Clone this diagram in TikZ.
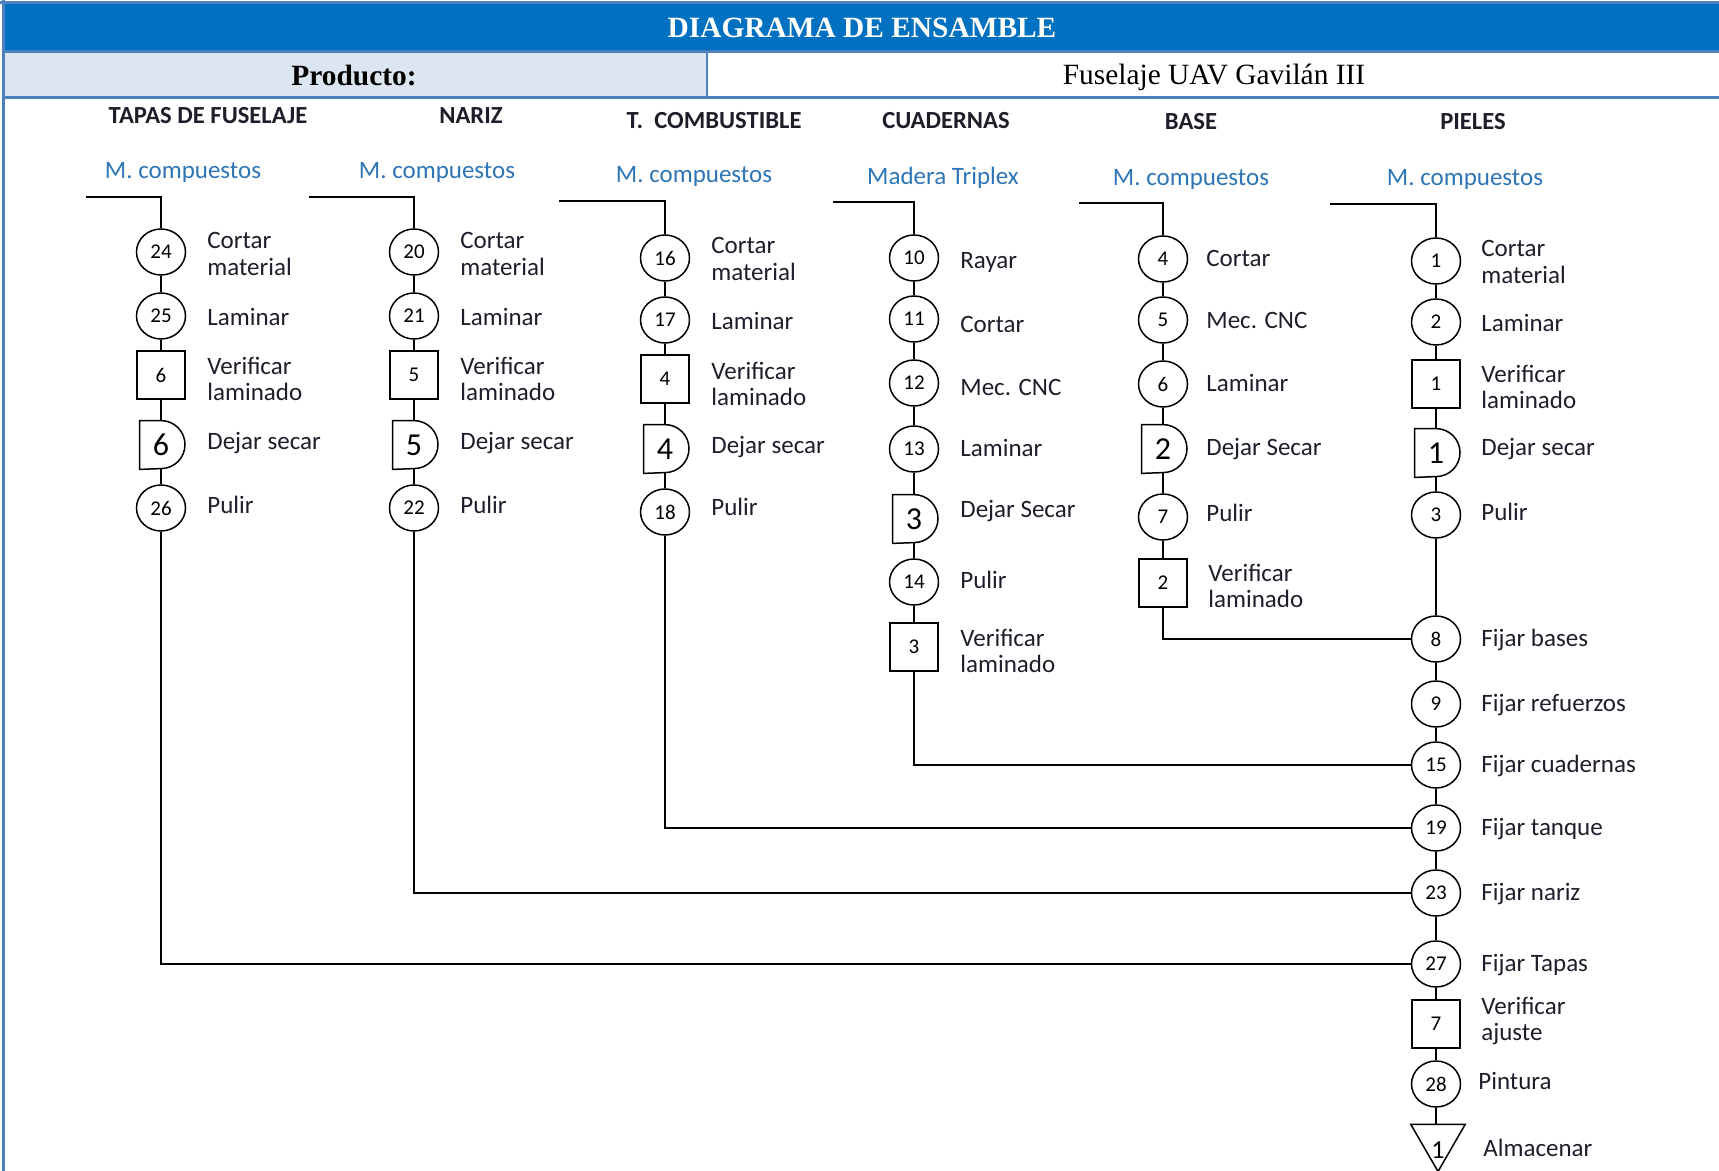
\documentclass[tikz,border=0pt]{standalone}
\usepackage{fontspec}
\setmainfont{Carlito}
\newfontfamily\timesfont{Liberation Serif}
\usetikzlibrary{shapes.geometric}
\definecolor{titleblue}{HTML}{0070C0}
\definecolor{rulblue}{HTML}{4F81BD}
\definecolor{cellblue}{HTML}{DCE6F1}
\definecolor{matblue}{HTML}{2E75B6}
\definecolor{ink}{HTML}{1E1E2A}

% delay symbol: flat left half, round right half
\newcommand\waitnode[4]{%
  \node[delaybox] (#1) at (#2,#3) {#4};
  \draw[conn] (#1.north west) -- (#1.north)
     arc[start angle=90,end angle=-90,radius=12pt] -- (#1.south west) -- cycle;}

\begin{document}
\begin{tikzpicture}[x=0.5pt,y=-0.5pt,
  conn/.style={draw=black, line width=0.75pt},
  op/.style={ellipse, draw, line width=0.75pt, minimum width=24.5pt, minimum height=23pt,
    inner sep=0pt, font=\fontsize{10.5}{11}\selectfont},
  insp/.style={rectangle, draw, line width=0.75pt, minimum width=24pt, minimum height=24pt,
    inner sep=0pt, font=\fontsize{10.5}{11}\selectfont},
  delaybox/.style={rectangle, minimum width=21pt, minimum height=24pt, inner sep=0pt,
    font=\fontsize{16}{16}\selectfont},
  store/.style={regular polygon, regular polygon sides=3, shape border rotate=180, draw,
    line width=0.75pt, minimum size=31.5pt, inner sep=0pt, text height=9pt, text depth=0pt,
    font=\fontsize{13}{13}\selectfont},
  lbl/.style={anchor=west, align=left, inner sep=0pt, text=ink,
    font=\fontsize{12.5}{13.2}\selectfont},
  head/.style={inner sep=0pt, text=ink, font=\fontsize{12.3}{13}\selectfont\bfseries},
  mat/.style={inner sep=0pt, text=matblue, font=\fontsize{12.5}{13}\selectfont},
  bigserif/.style={inner sep=0pt, font=\timesfont\fontsize{14.7}{15}\selectfont},
]
\useasboundingbox (0,0) rectangle (1719,1171);

% title block
\fill[titleblue] (3,3) rectangle (1719,52);
\fill[cellblue] (3,52) rectangle (707,98);
\draw[rulblue, line width=1.5pt] (0,3) -- (1719,3);
\draw[rulblue, line width=1.5pt] (3,0) -- (3,1171);
\draw[rulblue, line width=1.5pt] (3,52) -- (1719,52);
\draw[rulblue, line width=1.5pt] (3,98) -- (1719,98);
\draw[rulblue, line width=1pt] (707,52) -- (707,98);
\node[bigserif, text=white, font=\timesfont\fontsize{14.7}{15}\selectfont\bfseries] (title) at (862,28) {DIAGRAMA DE ENSAMBLE};
\node[bigserif, font=\timesfont\fontsize{14.7}{15}\selectfont\bfseries] (prodk) at (354,76) {Producto:};
\node[bigserif] (prodv) at (1214,77) {Fuselaje UAV Gavilán III};

% column headers
\node[head] (h1) at (208,116) {TAPAS DE FUSELAJE};
\node[head] (h2) at (471,116) {NARIZ};
\node[head] (h3) at (714,121) {T.\ \ COMBUSTIBLE};
\node[head] (h4) at (946,121) {CUADERNAS};
\node[head] (h5) at (1191,122) {BASE};
\node[head] (h6) at (1473,122) {PIELES};

\node[mat] (m1) at (183,172) {M. compuestos};
\node[mat] (m2) at (437,172) {M. compuestos};
\node[mat] (m3) at (694,176) {M. compuestos};
\node[mat] (m4) at (943,178) {Madera Triplex};
\node[mat] (m5) at (1191,179) {M. compuestos};
\node[mat] (m6) at (1465,179) {M. compuestos};

% entry points of each line
\coordinate (t1) at (86,197);
\coordinate (t2) at (309,197);
\coordinate (t3) at (559,201);
\coordinate (t4) at (833,202);
\coordinate (t5) at (1079,203);
\coordinate (t6) at (1330,204);

% tapas de fuselaje
\node[op] (a1) at (161,252) {24};
\node[op] (a2) at (161,316) {25};
\node[insp] (a3) at (161,375) {6};
\waitnode{a4}{161}{445}{6}
\node[op] (a5) at (161,508) {26};

% nariz
\node[op] (b1) at (414,252) {20};
\node[op] (b2) at (414,316) {21};
\node[insp] (b3) at (414,375) {5};
\waitnode{b4}{414}{445}{5}
\node[op] (b5) at (414,508) {22};

% tanque de combustible
\node[op] (c1) at (665,258) {16};
\node[op] (c2) at (665,320) {17};
\node[insp] (c3) at (665,379) {4};
\waitnode{c4}{665}{449}{4}
\node[op] (c5) at (665,512) {18};

% cuadernas
\node[op] (d1) at (914,258) {10};
\node[op] (d2) at (914,319) {11};
\node[op] (d3) at (914,383) {12};
\node[op] (d4) at (914,449) {13};
\waitnode{d5}{914}{519}{3}
\node[op] (d6) at (914,582) {14};
\node[insp] (d7) at (914,647) {3};

% base
\node[op] (e1) at (1163,259) {4};
\node[op] (e2) at (1163,320) {5};
\node[op] (e3) at (1163,384) {6};
\waitnode{e4}{1163}{449}{2}
\node[op] (e5) at (1163,517) {7};
\node[insp] (e6) at (1163,583) {2};

% pieles and final assembly
\node[op] (f1) at (1436,261) {1};
\node[op] (f2) at (1436,322) {2};
\node[insp] (f3) at (1436,384) {1};
\waitnode{f4}{1436}{453}{1}
\node[op] (f5) at (1436,515) {3};
\node[op] (f6) at (1436,639) {8};
\node[op] (f7) at (1436,704) {9};
\node[op] (f8) at (1436,765) {15};
\node[op] (f9) at (1436,828) {19};
\node[op] (f10) at (1436,893) {23};
\node[op] (f11) at (1436,964) {27};
\node[insp] (f12) at (1436,1024) {7};
\node[op] (f13) at (1436,1084) {28};
\node[store] (f14) at (1438,1140) {\raisebox{-4.5pt}{1}};

% connectors
\draw[conn] (t1) -| (a1);
\draw[conn] (t2) -| (b1);
\draw[conn] (t3) -| (c1);
\draw[conn] (t4) -| (d1);
\draw[conn] (t5) -| (e1);
\draw[conn] (t6) -| (f1);
\foreach \p/\q in {a1/a2,a2/a3,a3/a4,a4/a5,
                   b1/b2,b2/b3,b3/b4,b4/b5,
                   c1/c2,c2/c3,c3/c4,c4/c5,
                   d1/d2,d2/d3,d3/d4,d4/d5,d5/d6,d6/d7,
                   e1/e2,e2/e3,e3/e4,e4/e5,e5/e6,
                   f1/f2,f2/f3,f3/f4,f4/f5,f5/f6,f6/f7,f7/f8,f8/f9,f9/f10,
                   f10/f11,f11/f12,f12/f13}
  \draw[conn] (\p) -- (\q);
\draw[conn] (f13) -- (f13 |- f14.north);
\draw[conn] (e6) |- (f6);
\draw[conn] (d7) |- (f8);
\draw[conn] (c5) |- (f9);
\draw[conn] (b5) |- (f10);
\draw[conn] (a5) |- (f11);

% activity labels
\node[lbl] (la1) at (207,254) {Cortar\\material};
\node[lbl] (la2) at (207,317) {Laminar};
\node[lbl] (la3) at (207,379) {Verificar\\laminado};
\node[lbl] (la4) at (207,443) {Dejar secar};
\node[lbl] (la5) at (207,505) {Pulir};

\node[lbl] (lb1) at (460,254) {Cortar\\material};
\node[lbl] (lb2) at (460,317) {Laminar};
\node[lbl] (lb3) at (460,379) {Verificar\\laminado};
\node[lbl] (lb4) at (460,443) {Dejar secar};
\node[lbl] (lb5) at (460,505) {Pulir};

\node[lbl] (lc1) at (711,259) {Cortar\\material};
\node[lbl] (lc2) at (711,321) {Laminar};
\node[lbl] (lc3) at (711,384) {Verificar\\laminado};
\node[lbl] (lc4) at (711,447) {Dejar secar};
\node[lbl] (lc5) at (711,507) {Pulir};

\node[lbl] (ld1) at (960,262) {Rayar};
\node[lbl] (ld2) at (960,324) {Cortar};
\node[lbl] (ld3) at (960,387) {Mec. CNC};
\node[lbl] (ld4) at (960,448) {Laminar};
\node[lbl] (ld5) at (960,511) {Dejar Secar};
\node[lbl] (ld6) at (960,580) {Pulir};
\node[lbl] (ld7) at (960,651) {Verificar\\laminado};

\node[lbl] (le1) at (1206,258) {Cortar};
\node[lbl] (le2) at (1206,320) {Mec. CNC};
\node[lbl] (le3) at (1206,383) {Laminar};
\node[lbl] (le4) at (1206,449) {Dejar Secar};
\node[lbl] (le5) at (1206,513) {Pulir};
\node[lbl] (le6) at (1208,586) {Verificar\\laminado};

\node[lbl] (lf1) at (1481,262) {Cortar\\material};
\node[lbl] (lf2) at (1481,323) {Laminar};
\node[lbl] (lf3) at (1481,387) {Verificar\\laminado};
\node[lbl] (lf4) at (1481,449) {Dejar secar};
\node[lbl] (lf5) at (1481,512) {Pulir};
\node[lbl] (lf6) at (1481,640) {Fijar bases};
\node[lbl] (lf7) at (1481,705) {Fijar refuerzos};
\node[lbl] (lf8) at (1481,766) {Fijar cuadernas};
\node[lbl] (lf9) at (1481,829) {Fijar tanque};
\node[lbl] (lf10) at (1481,894) {Fijar nariz};
\node[lbl] (lf11) at (1481,965) {Fijar Tapas};
\node[lbl] (lf12) at (1481,1021) {Verificar\\ajuste};
\node[lbl] (lf13) at (1478,1081) {Pintura};
\node[lbl] (lf14) at (1483,1148) {Almacenar};
\end{tikzpicture}
\end{document}
